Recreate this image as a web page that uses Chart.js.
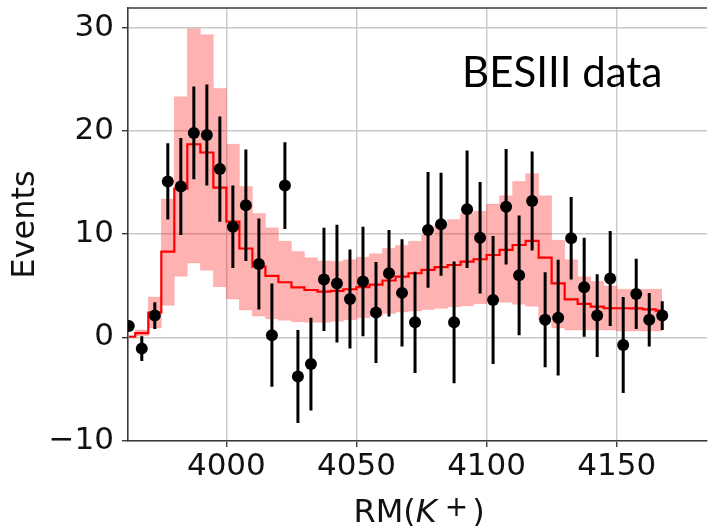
<!DOCTYPE html>
<html>
<head>
<meta charset="utf-8">
<script src="https://cdn.jsdelivr.net/npm/chart.js@4.4.0/dist/chart.umd.min.js"></script>
<style>
    html, body { margin: 0; padding: 0; background: #fff; overflow: hidden; }
    #box { width: 713px; height: 526px; }
</style>
</head>
<body>
<div id="box"><canvas id="chart"></canvas></div>
<script>
// centros de bin en MeV
var massBins = [3962.5, 3967.5, 3972.5, 3977.5, 3982.5, 3987.5, 3992.5, 3997.5,
    4002.5, 4007.5, 4012.5, 4017.5, 4022.5, 4027.5, 4032.5, 4037.5, 4042.5, 4047.5,
    4052.5, 4057.5, 4062.5, 4067.5, 4072.5, 4077.5, 4082.5, 4087.5, 4092.5, 4097.5,
    4102.5, 4107.5, 4112.5, 4117.5, 4122.5, 4127.5, 4132.5, 4137.5, 4142.5, 4147.5,
    4152.5, 4157.5, 4162.5, 4167.5]

var eventsData = [1.1, -1.1, 2.1, 15.1, 14.6, 19.8, 19.6, 16.3,
    10.7, 12.8, 7.1, 0.2, 14.7, -3.8, -2.6, 5.6, 5.2, 3.7,
    5.4, 2.4, 6.2, 4.3, 1.45, 10.4, 10.95, 1.45, 12.4, 9.65,
    3.6, 12.65, 6.0, 13.2, 1.7, 1.9, 9.6, 4.85, 2.1, 5.7,
    -0.75, 4.2, 1.7, 2.1]

var eventsErr = [0.5, 1.2, 1.3, 3.7, 4.7, 4.5, 4.9, 5.1,
    4.0, 5.4, 4.4, 5.0, 4.2, 4.5, 4.5, 5.0, 5.7, 4.8,
    5.3, 4.9, 4.2, 5.2, 4.9, 5.6, 5.0, 5.9, 5.7, 5.4,
    6.2, 5.6, 5.8, 4.8, 4.6, 5.6, 4.0, 4.8, 4.0, 4.6,
    4.65, 3.4, 2.6, 1.4]

var fitCentral = [0.05, 0.4, 2.4, 8.3, 14.4, 18.7, 17.9, 14.5,
    11.2, 8.6, 6.84, 5.94, 5.33, 4.84, 4.58, 4.42, 4.5, 4.65,
    4.85, 5.1, 5.5, 5.87, 6.2, 6.52, 6.8, 7.0, 7.33, 7.56,
    7.97, 8.46, 8.94, 9.33, 7.71, 5.23, 3.68, 3.23, 2.97, 2.81,
    2.81, 2.8, 2.71, 2.58]

var bandHigh = [0.15, 0.7, 3.9, 13.4, 23.3, 29.9, 29.3, 24.1,
    18.7, 14.6, 12.0, 10.6, 9.3, 8.3, 7.7, 7.4, 7.35, 7.5,
    7.75, 8.1, 8.6, 8.9, 9.3, 9.9, 10.9, 11.4, 12.0, 12.2,
    12.9, 13.7, 15.1, 15.85, 13.7, 9.4, 7.5, 5.87, 5.4, 4.97,
    4.65, 4.65, 4.65, 4.65]

var bandLow = [0.0, 0.15, 0.9, 3.1, 5.9, 7.2, 6.5, 4.9,
    3.7, 2.65, 2.05, 1.8, 1.65, 1.5, 1.45, 1.45, 1.55, 1.7,
    1.9, 2.05, 2.3, 2.45, 2.55, 2.7, 2.8, 2.95, 3.05, 3.25,
    3.6, 3.4, 3.2, 3.0, 1.7, 0.9, 0.7, 0.7, 0.7, 0.7,
    0.6, 0.6, 0.6, 0.6]

var xTicks = [4000, 4050, 4100, 4150]
var yTicks = [-10, 0, 10, 20, 30]

var frameColor = "#3a3a3a"
var gridColor = "#c9c9c9"

function pts(arr){
    return massBins.map(function(x, i){ return {x: x, y: arr[i]} })
}

// barras de error como segmentos separados por null
var errSegments = []
massBins.forEach(function(x, i){
    errSegments.push({x: x, y: eventsData[i] - eventsErr[i]})
    errSegments.push({x: x, y: eventsData[i] + eventsErr[i]})
    errSegments.push({x: x, y: null})
})

var extraText = {
    id: "extraText",
    afterDraw: function(chart){
        var ctx = chart.ctx
        var area = chart.chartArea
        ctx.save()
        // marco superior
        ctx.strokeStyle = frameColor
        ctx.lineWidth = 1.6
        ctx.beginPath()
        ctx.moveTo(area.left, area.top)
        ctx.lineTo(area.right, area.top)
        ctx.stroke()

        ctx.fillStyle = "#000"
        ctx.textBaseline = "alphabetic"
        ctx.textAlign = "left"
        ctx.font = "42px Lato"
        ctx.fillText("BESIII data", 462, 87)

        // RM(K^+) con K en cursiva y + como superindice
        ctx.fillStyle = "#111"
        var base = 522
        var x0 = 353.5
        ctx.font = '32px "DejaVu Sans"'
        var w1 = ctx.measureText("RM(").width
        ctx.fillText("RM(", x0, base)
        ctx.font = 'italic 32px "DejaVu Sans"'
        var w2 = ctx.measureText("K").width
        ctx.fillText("K", x0 + w1, base)
        var xp = x0 + w1 + w2 + 8
        ctx.font = '28px "DejaVu Sans"'
        var ws = ctx.measureText("+").width
        ctx.fillText("+", xp, base - 6)
        ctx.font = '32px "DejaVu Sans"'
        ctx.fillText(")", xp + ws + 4, base)
        ctx.restore()
    }
}

Chart.defaults.font.family = "DejaVu Sans"
Chart.defaults.color = "#111"

var ctx = document.getElementById("chart").getContext("2d")
var chart = new Chart(ctx, {
    type: "line",
    data: {
        datasets: [
            {
                label: "BESIII data",
                data: pts(eventsData),
                showLine: false,
                pointRadius: 6,
                pointBackgroundColor: "#000",
                pointBorderColor: "#000",
                pointBorderWidth: 0,
                order: 0
            },
            {
                label: "err",
                data: errSegments,
                borderColor: "#000",
                borderWidth: 3,
                pointRadius: 0,
                spanGaps: false,
                fill: false,
                order: 1
            },
            {
                label: "fit",
                data: pts(fitCentral),
                stepped: "middle",
                borderColor: "#ff0000",
                borderWidth: 2.2,
                pointRadius: 0,
                fill: false,
                order: 2
            },
            {
                label: "band high",
                data: pts(bandHigh),
                stepped: "middle",
                borderColor: "rgba(255,0,0,0.12)",
                borderWidth: 1,
                backgroundColor: "rgba(255,0,0,0.3)",
                pointRadius: 0,
                fill: "+1",
                order: 3
            },
            {
                label: "band low",
                data: pts(bandLow),
                stepped: "middle",
                borderColor: "rgba(255,0,0,0.12)",
                borderWidth: 1,
                pointRadius: 0,
                fill: false,
                order: 4
            }
        ]
    },
    options: {
        responsive: true,
        maintainAspectRatio: false,
        devicePixelRatio: 1,
        animation: false,
        events: [],
        layout: { padding: { top: 8, right: 0, left: 0, bottom: 0 } },
        plugins: {
            legend: { display: false },
            tooltip: { enabled: false }
        },
        scales: {
            x: {
                type: "linear",
                min: 3962.2,
                max: 4184.7,
                afterBuildTicks: function(s){ s.ticks = xTicks.map(function(v){ return {value: v} }) },
                afterFit: function(s){ s.height = 85; s.paddingLeft = 0; s.paddingRight = 0 },
                ticks: {
                    font: { size: 31 },
                    color: "#111",
                    padding: 1,
                    maxRotation: 0,
                    callback: function(v){ return String(v) }
                },
                grid: {
                    color: gridColor,
                    lineWidth: 1.4,
                    tickLength: 6,
                    tickColor: frameColor,
                    tickWidth: 1.4
                },
                border: { color: frameColor, width: 1.6 }
            },
            y: {
                min: -10.05,
                max: 31.9,
                afterBuildTicks: function(s){ s.ticks = yTicks.map(function(v){ return {value: v} }) },
                afterFit: function(s){ s.width = 128; s.paddingTop = 0; s.paddingBottom = 0 },
                ticks: {
                    font: { size: 31 },
                    color: "#111",
                    padding: 8,
                    callback: function(v){ return String(v).replace("-", "\u2212") }
                },
                grid: {
                    color: gridColor,
                    lineWidth: 1.4,
                    tickLength: 6,
                    tickColor: frameColor,
                    tickWidth: 1.4
                },
                border: { color: frameColor, width: 1.6 },
                title: {
                    display: true,
                    text: "Events",
                    font: { size: 32 },
                    color: "#111",
                    padding: { top: 6, bottom: 0 }
                }
            }
        }
    },
    plugins: [extraText]
})
</script>
</body>
</html>
